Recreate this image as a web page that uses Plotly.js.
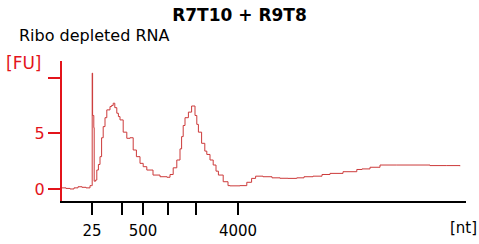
<!DOCTYPE html>
<html>
<head>
<meta charset="utf-8">
<script src="https://cdn.plot.ly/plotly-3.0.1.min.js"></script>
<style>html,body{margin:0;padding:0;background:#fff;}#chart{width:479px;height:244px;}</style>
</head>
<body>
<div id="chart"></div>
<script>
// migration time (arbitrary units) and fluorescence [FU]
var timeVals = [0, 1, 2, 3, 4, 5, 6, 7, 7.45, 7.55, 7.65, 7.95, 8.05, 8.4, 8.7, 9.1, 9.5, 9.9, 10.3, 10.75, 11.2, 12, 12.4, 12.8, 13.2, 13.7, 14.1, 14.5, 15.3, 16.2, 17, 17.8, 18.6, 19.5, 20.3, 21.2, 22.75, 24.5, 26.25, 27, 27.8, 28.7, 29.5, 29.9, 30.3, 30.75, 31.6, 32.4, 33.25, 33.7, 34.1, 34.9, 35.7, 36.2, 37, 37.8, 38.5, 39.1, 40.3, 41.5, 42, 44.5, 46.2, 47.4, 48.4, 50.25, 52.5, 54.5, 56.5, 58.7, 60.5, 62.75, 65, 67, 70.25, 73.7, 75, 77, 79.5, 83.7, 87.75, 92, 96.2, 99.5];
var fuVals   = [0.1, 0.05, 0.0, 0.1, 0.2, 0.15, 0.1, 0.3, 0.3, 10.4, 6.6, 5.5, 0.7, 0.8, 1.7, 2.2, 2.9, 4.6, 5.6, 6.4, 7.1, 7.4, 7.5, 7.7, 7.3, 6.8, 6.5, 6.2, 5.1, 4.55, 4.6, 3.5, 2.9, 2.3, 2.0, 1.7, 1.25, 1.1, 1.05, 1.3, 1.9, 2.6, 3.6, 4.7, 5.7, 6.4, 6.9, 7.45, 6.6, 5.8, 5.1, 4.1, 3.4, 3.1, 2.6, 2.15, 1.6, 1.25, 0.65, 0.3, 0.28, 0.3, 0.6, 0.95, 1.15, 1.1, 1.0, 0.96, 0.95, 1.0, 1.1, 1.15, 1.3, 1.4, 1.55, 1.75, 1.8, 1.95, 2.15, 2.15, 2.15, 2.1, 2.1, 2.05];
// ladder tick positions and labels
var xTickPos  = [7.5, 15, 20.25, 26.5, 33.5, 44];
var xTickText = ['25', '', '500', '', '', '4000'];
var yTickVals = [0, 5, 10];
var yTickText = ['0', '5', ''];

var red = '#e3141b';
var font = 'DejaVu Sans, Verdana, sans-serif';

var trace = {
  x: timeVals, y: fuVals, type: 'scatter', mode: 'lines',
  line: {color: '#cc3a3a', width: 1, shape: 'hv'}, hoverinfo: 'skip'
};

var layout = {
  width: 479, height: 244,
  margin: {l: 62, r: 13, t: 61, b: 43},
  paper_bgcolor: '#fff', plot_bgcolor: '#fff',
  showlegend: false,
  font: {family: font, size: 15, color: '#000'},
  title: {text: '<b>R7T10 + R9T8</b>', x: 0.5, xanchor: 'center', y: 0.94, yanchor: 'middle', yref: 'container', font: {family: font, size: 17, color: '#000'}},
  xaxis: {
    range: [0, 101], showgrid: false, zeroline: false,
    showline: true, linecolor: '#000', linewidth: 2,
    ticks: 'outside', ticklen: 12, tickwidth: 2, tickcolor: '#000',
    tickmode: 'array', tickvals: xTickPos, ticktext: xTickText,
    tickfont: {family: font, size: 15, color: '#000'}, ticklabelstandoff: 3
  },
  yaxis: {
    range: [-1.08, 11.49], showgrid: false, zeroline: false,
    showline: true, linecolor: red, linewidth: 2,
    ticks: 'outside', ticklen: 12, tickwidth: 2, tickcolor: red,
    tickmode: 'array', tickvals: yTickVals, ticktext: yTickText,
    tickfont: {family: font, size: 16, color: red}
  },
  annotations: [
    {text: 'Ribo depleted RNA', xref: 'paper', yref: 'paper', x: -62/404, y: 1 + (61-35)/140, xanchor: 'left', yanchor: 'middle', showarrow: false, font: {family: font, size: 16, color: '#000'}, xshift: 17},
    {text: '[FU]', xref: 'paper', yref: 'paper', x: -62/404, y: 1 + (61-63)/140, xanchor: 'left', yanchor: 'middle', showarrow: false, font: {family: font, size: 17, color: red}, xshift: 4},
    {text: '[nt]', xref: 'paper', yref: 'paper', x: 1 + 13/404, y: -(228-201)/140, xanchor: 'right', yanchor: 'middle', showarrow: false, font: {family: font, size: 15, color: '#000'}}
  ]
};

Plotly.newPlot('chart', [trace], layout, {staticPlot: true, displayModeBar: false});
</script>
</body>
</html>
